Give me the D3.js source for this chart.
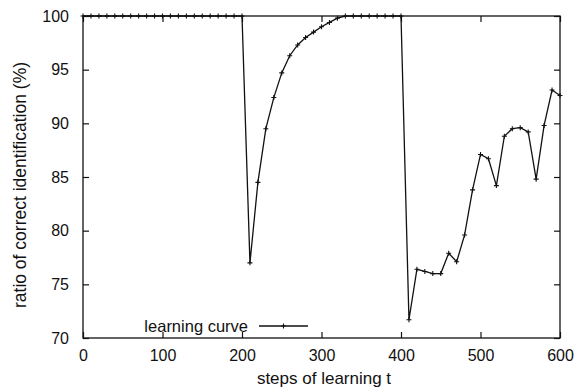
<!DOCTYPE html>
<html>
<head>
<meta charset="utf-8">
<script src="https://cdn.jsdelivr.net/npm/d3@7"></script>
<style>
  html, body { margin: 0; padding: 0; background: #fff; }
  svg text { font-family: "Liberation Sans", Arial, Helvetica, sans-serif; fill: #111; }
</style>
</head>
<body>
<svg id="chart" width="582" height="390"></svg>
<script>
// ── Data ──────────────────────────────────────────────────────────────────────
const steps = d3.range(0, 601, 10);   // steps of learning t
const ratio = [
  100, 100, 100, 100, 100, 100, 100, 100, 100, 100,        // 0-90
  100, 100, 100, 100, 100, 100, 100, 100, 100, 100,        // 100-190
  100, 77.0, 84.5, 89.5, 92.4, 94.7, 96.3, 97.3, 98.0, 98.5, // 200-290
  99.0, 99.4, 99.8, 100, 100, 100, 100, 100, 100, 100,     // 300-390
  100, 71.7, 76.4, 76.2, 76.0, 76.0, 77.9, 77.1, 79.6, 83.8, // 400-490
  87.1, 86.7, 84.2, 88.8, 89.5, 89.6, 89.2, 84.8, 89.8, 93.1, // 500-590
  92.6                                                     // 600
];
const xTicks = [0, 100, 200, 300, 400, 500, 600];
const yTicks = [70, 75, 80, 85, 90, 95, 100];
const seriesLabel = 'learning curve';

// ── Layout ────────────────────────────────────────────────────────────────────
const svg = d3.select('#chart');
const L = 83, R = 560, T = 16, B = 338;

const x = d3.scaleLinear().domain([0, 600]).range([L, R]);
const y = d3.scaleLinear().domain([70, 100]).range([B, T]);

const pts = steps.map((s, i) => [s, ratio[i]]);

// Frame
svg.append('rect')
  .attr('x', L).attr('y', T).attr('width', R - L).attr('height', B - T)
  .attr('fill', 'none').attr('stroke', '#111').attr('stroke-width', 1.3);

// Axes (ticks inward, mirrored)
const tick = 6;
const axB = svg.append('g').attr('transform', `translate(0,${B})`)
  .call(d3.axisBottom(x).tickValues(xTicks).tickSize(-tick).tickPadding(12));
const axT = svg.append('g').attr('transform', `translate(0,${T})`)
  .call(d3.axisTop(x).tickValues(xTicks).tickSize(-tick).tickFormat(''));
const axL = svg.append('g').attr('transform', `translate(${L},0)`)
  .call(d3.axisLeft(y).tickValues(yTicks).tickSize(-tick).tickPadding(14));
const axR = svg.append('g').attr('transform', `translate(${R},0)`)
  .call(d3.axisRight(y).tickValues(yTicks).tickSize(-tick).tickFormat(''));

[axB, axT, axL, axR].forEach(g => {
  g.select('.domain').remove();
  g.selectAll('line').attr('stroke', '#111').attr('stroke-width', 1.2);
  g.selectAll('text').attr('font-size', 16).attr('fill', '#111');
});

// Axis titles
svg.append('text')
  .attr('x', 324).attr('y', 384)
  .attr('text-anchor', 'middle').attr('font-size', 17)
  .text('steps of learning t');

svg.append('text')
  .attr('transform', `translate(26,${(T + B) / 2 + 8}) rotate(-90)`)
  .attr('text-anchor', 'middle').attr('font-size', 17.5)
  .text('ratio of correct identification (%)');

// Line
const line = d3.line().x(d => x(d[0])).y(d => y(d[1]));
svg.append('path')
  .datum(pts)
  .attr('d', line)
  .attr('fill', 'none').attr('stroke', '#111').attr('stroke-width', 1.3);

// Point markers (+)
const m = 2.5;
svg.append('g').selectAll('path.pt')
  .data(pts)
  .enter().append('path')
  .attr('class', 'pt')
  .attr('d', d => {
    const px = x(d[0]), py = y(d[1]);
    return `M${px - m},${py}H${px + m}M${px},${py - m}V${py + m}`;
  })
  .attr('stroke', '#111').attr('stroke-width', 1.1);

// Legend
const lgY = 326;
svg.append('text')
  .attr('x', 248).attr('y', lgY + 6)
  .attr('text-anchor', 'end').attr('font-size', 16.5)
  .text(seriesLabel);
svg.append('line')
  .attr('x1', 259).attr('x2', 308).attr('y1', lgY).attr('y2', lgY)
  .attr('stroke', '#111').attr('stroke-width', 1.3);
svg.append('path')
  .attr('d', `M${283.5 - m},${lgY}H${283.5 + m}M283.5,${lgY - m}V${lgY + m}`)
  .attr('stroke', '#111').attr('stroke-width', 1.1);
</script>
</body>
</html>
